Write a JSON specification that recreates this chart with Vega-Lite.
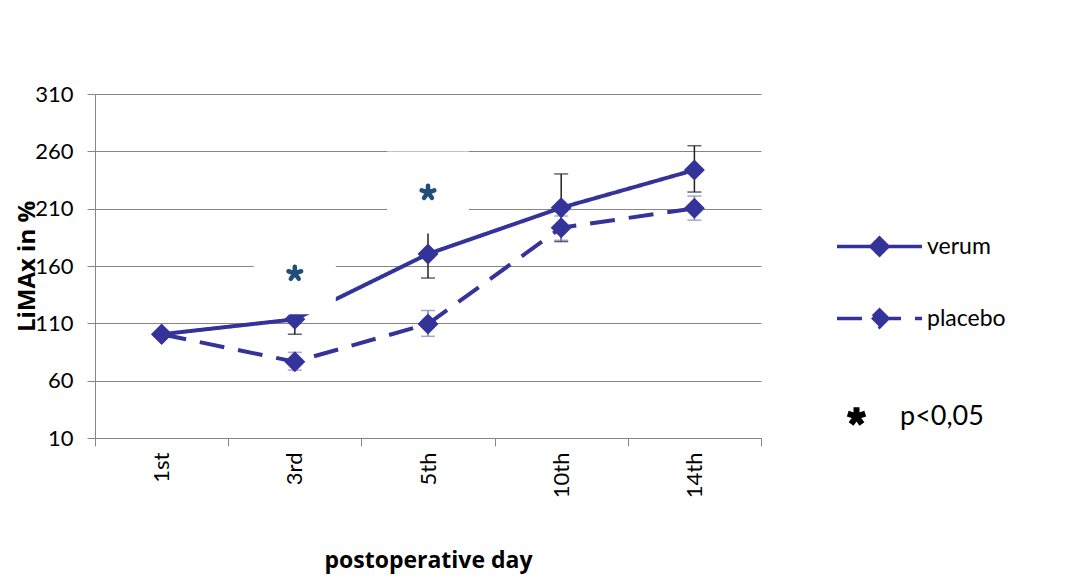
{
  "$schema": "https://vega.github.io/schema/vega-lite/v6.json",
  "width": 666,
  "height": 344,
  "autosize": "none",
  "padding": {"left": 95, "top": 94, "right": 311, "bottom": 148},
  "background": "white",
  "datasets": {
    "series": [
      {"day": "1st", "series": "verum", "value": 100.5, "lo": null, "hi": null},
      {"day": "3rd", "series": "verum", "value": 113.5, "lo": 100.5, "hi": 126.5},
      {"day": "5th", "series": "verum", "value": 170.5, "lo": 149.5, "hi": 191.5},
      {"day": "10th", "series": "verum", "value": 210.8, "lo": 181.3, "hi": 240.3},
      {"day": "14th", "series": "verum", "value": 243.7, "lo": 224.5, "hi": 264.9},
      {"day": "1st", "series": "placebo", "value": 100.5, "lo": null, "hi": null},
      {"day": "3rd", "series": "placebo", "value": 76.5, "lo": 69.2, "hi": 84.7},
      {"day": "5th", "series": "placebo", "value": 109.5, "lo": 98.7, "hi": 121.2},
      {"day": "10th", "series": "placebo", "value": 193.4, "lo": 182.4, "hi": 203.6},
      {"day": "14th", "series": "placebo", "value": 210.3, "lo": 200.0, "hi": 221.0}
    ],
    "sig": [
      {"day": "3rd", "v": 153.6, "sig": "p<0,05"},
      {"day": "5th", "v": 224.1, "sig": "p<0,05"}
    ]
  },
  "config": {
    "font": "Lato",
    "view": {"stroke": null},
    "axis": {"labelColor": "black", "titleColor": "black"}
  },
  "encoding": {
    "x": {
      "field": "day",
      "type": "ordinal",
      "sort": ["1st", "3rd", "5th", "10th", "14th"],
      "bandPosition": 0.5,
      "scale": {"type": "band", "paddingInner": 0, "paddingOuter": 0},
      "axis": {
        "title": "postoperative day",
        "titleFont": "Open Sans",
        "titleFontSize": 23,
        "titleFontWeight": "bold",
        "titleX": 333,
        "titleY": 122,
        "titleBaseline": "middle",
        "labelAngle": 270,
        "labelFontSize": 22,
        "labelPadding": 6,
        "tickBand": "extent",
        "tickSize": 8,
        "tickColor": "#868686",
        "domainColor": "#868686",
        "grid": false
      }
    }
  },
  "layer": [
    {
      "data": {"name": "series"},
      "mark": {"type": "rule", "strokeWidth": 1.5},
      "encoding": {
        "y": {
          "field": "lo",
          "type": "quantitative",
          "title": "LiMAx in %",
          "scale": {"domain": [10, 310], "nice": false, "zero": false},
          "axis": {
            "values": [10, 60, 110, 160, 210, 260, 310],
            "grid": true,
            "gridColor": "#868686",
            "gridWidth": 1,
            "domainColor": "#868686",
            "tickColor": "#868686",
            "tickSize": 8,
            "labelFontSize": 22,
            "labelPadding": 14,
            "titleFont": "Open Sans",
            "titleFontSize": 24,
            "titleFontWeight": "bold",
            "titleAngle": 270,
            "titleX": -68,
            "titleY": 172,
            "titleAlign": "center",
            "titleBaseline": "middle"
          }
        },
        "y2": {"field": "hi"},
        "color": {"condition": {"test": "datum.series === 'verum'", "value": "#222222"}, "value": "#7f7fc4"}
      }
    },
    {
      "data": {"name": "series"},
      "mark": {"type": "tick", "size": 14, "thickness": 1.5},
      "encoding": {
        "y": {"field": "lo", "type": "quantitative", "title": "LiMAx in %"},
        "color": {"condition": {"test": "datum.series === 'verum'", "value": "#222222"}, "value": "#7f7fc4"}
      }
    },
    {
      "data": {"name": "series"},
      "mark": {"type": "tick", "size": 14, "thickness": 1.5},
      "encoding": {
        "y": {"field": "hi", "type": "quantitative", "title": "LiMAx in %"},
        "color": {"condition": {"test": "datum.series === 'verum'", "value": "#222222"}, "value": "#7f7fc4"}
      }
    },
    {
      "data": {"name": "series"},
      "mark": {"type": "line", "strokeWidth": 4},
      "encoding": {
        "y": {"field": "value", "type": "quantitative", "title": "LiMAx in %"},
        "color": {
          "field": "series",
          "type": "nominal",
          "title": null,
          "scale": {"domain": ["verum", "placebo"], "range": ["#333399", "#333399"]},
          "legend": {
            "orient": "none",
            "legendX": 740,
            "legendY": 108,
            "symbolType": "M-1,0L1,0M0,-0.2L0.2,0L0,0.2L-0.2,0Z",
            "symbolSize": 7225,
            "symbolStrokeWidth": 3.5,
            "labelFontSize": 23,
            "labelColor": "black",
            "labelOffset": 3,
            "rowPadding": 12,
            "padding": 0,
            "encode": {
              "symbols": {"update": {"fill": {"value": "#333399"}, "stroke": {"value": "#333399"}, "strokeWidth": {"value": 3.5}}}
            }
          }
        },
        "strokeDash": {
          "field": "series",
          "type": "nominal",
          "title": null,
          "scale": {"domain": ["verum", "placebo"], "range": [[1, 0], [25, 14]]}
        }
      }
    },
    {
      "data": {"name": "series"},
      "mark": {"type": "point", "shape": "diamond", "filled": true, "size": 441, "opacity": 1},
      "encoding": {
        "y": {"field": "value", "type": "quantitative", "title": "LiMAx in %"},
        "color": {"field": "series", "type": "nominal", "title": null}
      }
    },
    {
      "data": {"name": "sig"},
      "mark": {"type": "point", "shape": "square", "filled": true, "size": 6724, "color": "white", "opacity": 1},
      "encoding": {
        "y": {"field": "v", "type": "quantitative", "title": "LiMAx in %"}
      }
    },
    {
      "data": {"name": "sig"},
      "mark": {"type": "point", "filled": false, "size": 180, "color": "#1f4e79", "strokeWidth": 4.5, "strokeCap": "round", "opacity": 1},
      "encoding": {
        "y": {"field": "v", "type": "quantitative", "title": "LiMAx in %"},
        "shape": {
          "field": "sig",
          "type": "nominal",
          "title": null,
          "scale": {"range": ["M0,0L0,-1M0,0L0.95,-0.31M0,0L0.59,0.81M0,0L-0.59,0.81M0,0L-0.95,-0.31"]},
          "legend": {
            "orient": "none",
            "legendX": 748,
            "legendY": 309,
            "symbolSize": 340,
            "symbolStrokeColor": "black",
            "symbolStrokeWidth": 6,
            "symbolFillColor": "transparent",
            "labelFontSize": 27,
            "labelColor": "black",
            "labelOffset": 30,
            "padding": 0,
            "encode": {
              "symbols": {
                "enter": {"stroke": {"value": "black"}, "strokeWidth": {"value": 6}, "strokeCap": {"value": "round"}},
                "update": {"fill": {"value": "transparent"}, "stroke": {"value": "black"}, "strokeWidth": {"value": 6}, "strokeCap": {"value": "round"}}
              }
            }
          }
        }
      }
    }
  ]
}
